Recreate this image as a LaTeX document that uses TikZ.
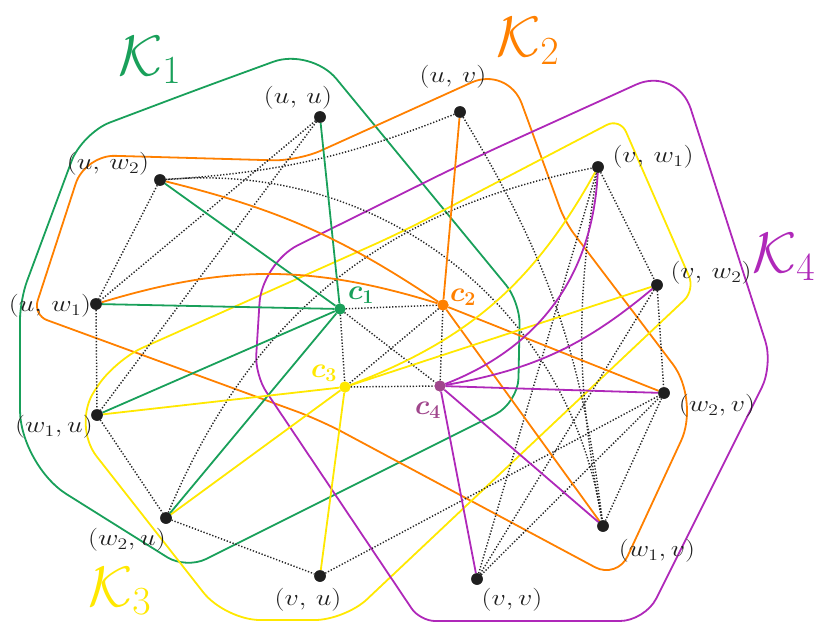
\RequirePackage{fix-cm}
\documentclass[tikz,border=0pt]{standalone}
\usepackage{graphicx}
\usepackage{amsmath,bm}
\definecolor{kgreen}{RGB}{25,160,90}
\definecolor{korange}{RGB}{255,128,0}
\definecolor{kyellow}{RGB}{255,232,0}
\definecolor{kpurple}{RGB}{175,40,185}
\definecolor{cfour}{RGB}{160,70,140}
\newcommand{\wlab}[1]{\scalebox{1.22}[1]{$#1$}}
\begin{document}
\begin{tikzpicture}[x=1pt,y=-1pt,
  vtx/.style={circle,fill=black!88,inner sep=0pt,minimum size=11.5pt},
  cnode/.style={circle,fill=#1,inner sep=0pt,minimum size=11pt},
  dotl/.style={black!85,line width=1.45pt,dash pattern=on 1.3pt off 1.8pt},
  sol/.style={#1,line width=1.8pt},
  hull/.style={#1,line width=1.8pt},
  vlab/.style={font=\fontsize{23}{26}\selectfont,text=black!88,inner sep=0pt},
  clab/.style={font=\fontsize{28}{30}\selectfont,inner sep=0pt,text=#1},
  klab/.style={font=\fontsize{57}{62}\selectfont,inner sep=0pt,text=#1}]
\useasboundingbox (0,0) rectangle (816,623);

% hulls
\draw[hull=kgreen] (196,90) [rounded corners=40pt]-- (311,48) [rounded corners=22pt]-- (520,302)
  [rounded corners=25pt]-- (518,403) [rounded corners=22pt]-- (186,569) [rounded corners=55pt]-- (20,465)
  [rounded corners=20pt]-- (20,300) [rounded corners=30pt]-- (82,133) -- cycle;
\draw[hull=korange] (320,420) [rounded corners=15pt]-- (33,315) [rounded corners=30pt]-- (85,155)
  [rounded corners=25pt]-- (298,161) [rounded corners=40pt]-- (508,66) [rounded corners=15pt]-- (565,222)
  [rounded corners=45pt]-- (700,400) [rounded corners=25pt]-- (617,579) -- cycle;
\draw[hull=kyellow] (400,233) [rounded corners=15pt]-- (620,118) -- (695,290) [rounded corners=30pt]-- (345,620)
  [rounded corners=35pt]-- (225,620) [rounded corners=40pt]-- (72,425) [rounded corners=30pt]-- (115,360) -- cycle;
\draw[hull=kpurple] (470,160) [rounded corners=45pt]-- (677,66) [rounded corners=25pt]-- (773,365)
  -- (645,621) [rounded corners=15pt]-- (420,621) [rounded corners=20pt]-- (255,375) [rounded corners=40pt]-- (262,263) -- cycle;

% vertices
\node[vtx] (A) at (320,117) {};
\node[vtx] (B) at (460,112) {};
\node[vtx] (C) at (160,180) {};
\node[vtx] (D) at (598,167) {};
\node[vtx] (E) at (96,304) {};
\node[vtx] (F) at (657,285) {};
\node[vtx] (G) at (97,415) {};
\node[vtx] (H) at (664,393) {};
\node[vtx] (I) at (166,518) {};
\node[vtx] (J) at (603,526) {};
\node[vtx] (K) at (320,576) {};
\node[vtx] (L) at (477,579) {};
\node[cnode=kgreen] (c1) at (340,309) {};
\node[cnode=korange] (c2) at (443,305) {};
\node[cnode=kyellow] (c3) at (345,387) {};
\node[cnode=cfour] (c4) at (440,386) {};

% dotted edges
\draw[dotl] (A) -- (E);
\draw[dotl] (A) -- (G);
\draw[dotl] (C) -- (E);
\draw[dotl] (E) -- (G);
\draw[dotl] (G) -- (I);
\draw[dotl] (I) -- (K);
\draw[dotl] (B) to[bend left=9] (C);
\draw[dotl] (B) to[bend left=12] (J);
\draw[dotl] (D) -- (F);
\draw[dotl] (F) -- (H);
\draw[dotl] (H) -- (J);
\draw[dotl] (L) -- (H);
\draw[dotl] (L) -- (F);
\draw[dotl] (L) -- (D);
\draw[dotl] (K) -- (H);
\draw[dotl] (D) to[bend right=10] (J);
\draw[dotl] (C) to[bend left=43] (J);
\draw[dotl] (I) to[bend left=28] (D);
\draw[dotl] (c1) -- (c2);
\draw[dotl] (c1) -- (c3);
\draw[dotl] (c1) -- (c4);
\draw[dotl] (c2) -- (c3);
\draw[dotl] (c2) -- (c4);
\draw[dotl] (c3) -- (c4);

% solid edges
\draw[sol=kgreen] (c1) -- (A);
\draw[sol=kgreen] (c1) -- (C);
\draw[sol=kgreen] (c1) -- (E);
\draw[sol=kgreen] (c1) -- (G);
\draw[sol=kgreen] (c1) -- (I);
\draw[sol=korange] (c2) -- (B);
\draw[sol=korange] (C) to[bend left=10] (c2);
\draw[sol=korange] (E) to[bend left=17] (c2);
\draw[sol=korange] (c2) -- (H);
\draw[sol=korange] (c2) -- (J);
\draw[sol=kyellow] (c3) -- (G);
\draw[sol=kyellow] (c3) -- (I);
\draw[sol=kyellow] (c3) -- (K);
\draw[sol=kyellow] (c3) -- (F);
\draw[sol=kyellow] (c3) to[bend right=20] (D);
\draw[sol=kpurple] (c4) -- (H);
\draw[sol=kpurple] (c4) -- (J);
\draw[sol=kpurple] (c4) -- (L);
\draw[sol=kpurple] (c4) to[bend right=33] (D);
\draw[sol=kpurple] (c4) to[bend right=15] (F);

% redraw nodes on top
\foreach \v in {A,B,C,D,E,F,G,H,I,J,K,L} {\node[vtx] at (\v) {};}
\node[cnode=kgreen] at (c1) {};
\node[cnode=korange] at (c2) {};
\node[cnode=kyellow] at (c3) {};
\node[cnode=cfour] at (c4) {};

% vertex labels
\node[vlab] (lA) at (298,98) {\wlab{(u,\,u)}};
\node[vlab] (lB) at (453,77) {\wlab{(u,\,v)}};
\node[vlab] (lC) at (108,164) {\wlab{(u,\,w_2)}};
\node[vlab] (lD) at (653,157) {\wlab{(v,\,w_1)}};
\node[vlab] (lE) at (50,306) {\wlab{(u,\,w_1)}};
\node[vlab] (lF) at (711,273) {\wlab{(v,\,w_2)}};
\node[vlab] (lG) at (54,427) {\wlab{(w_1,u)}};
\node[vlab] (lH) at (717,406) {\wlab{(w_2,v)}};
\node[vlab] (lI) at (127,540) {\wlab{(w_2,u)}};
\node[vlab] (lJ) at (657,551) {\wlab{(w_1,v)}};
\node[vlab] (lK) at (308,600) {\wlab{(v,\,u)}};
\node[vlab] (lL) at (512,600) {\wlab{(v,v)}};

% c labels
\node[clab=kgreen] (lc1) at (361,295) {$\bm{c}_{\bm{1}}$};
\node[clab=korange] (lc2) at (463,297) {$\bm{c}_{\bm{2}}$};
\node[clab=kyellow] (lc3) at (324,373) {$\bm{c}_{\bm{3}}$};
\node[clab=cfour] (lc4) at (428,410) {$\bm{c}_{\bm{4}}$};

% clique labels
\node[klab=kgreen] (K1) at (150,60) {$\mathcal{K}_1$};
\node[klab=korange] (K2) at (528,41) {$\mathcal{K}_2$};
\node[klab=kyellow] (K3) at (120,591) {$\mathcal{K}_3$};
\node[klab=kpurple] (K4) at (784,257) {$\mathcal{K}_4$};
\end{tikzpicture}
\end{document}
